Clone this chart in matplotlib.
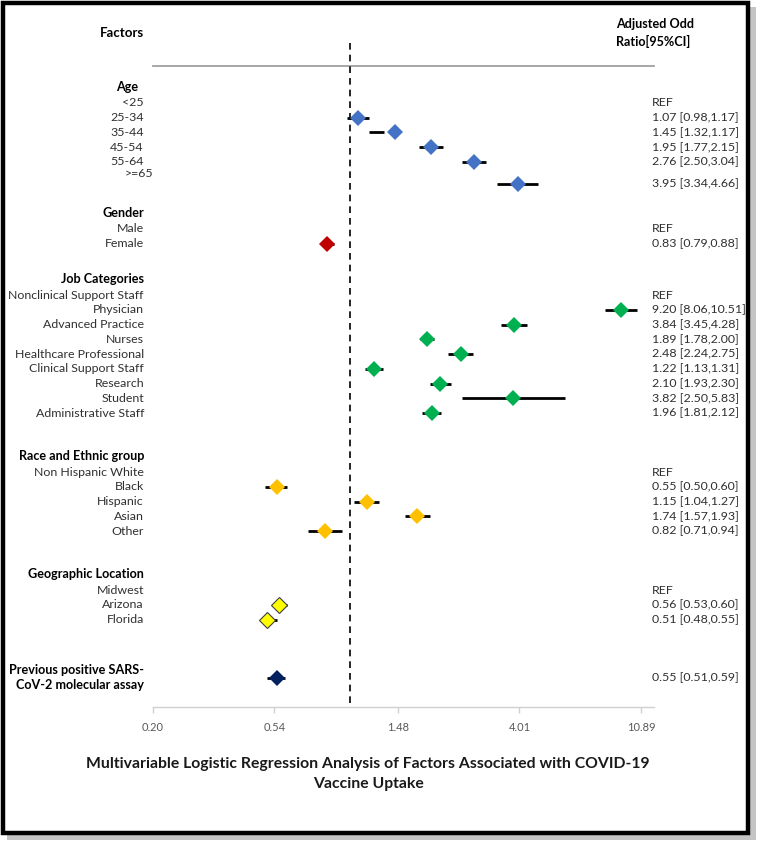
import numpy as np
import matplotlib
matplotlib.use("Agg")
import matplotlib.pyplot as plt
from matplotlib.patches import Rectangle
import matplotlib.transforms as mtransforms

plt.rcParams['font.family'] = ['Lato', 'DejaVu Sans']

# ---- data ----
age_labels = ['<25', '25-34', '35-44', '45-54', '55-64', '>=65']
age_or = [np.nan, 1.07, 1.45, 1.95, 2.76, 3.95]
age_lo = [np.nan, 0.98, 1.32, 1.77, 2.50, 3.34]
age_hi = [np.nan, 1.17, 1.17, 2.15, 3.04, 4.66]

gender_labels = ['Male', 'Female']
gender_or = [np.nan, 0.83]
gender_lo = [np.nan, 0.79]
gender_hi = [np.nan, 0.88]

job_labels = ['Nonclinical Support Staff', 'Physician', 'Advanced Practice', 'Nurses',
              'Healthcare Professional', 'Clinical Support Staff', 'Research', 'Student',
              'Administrative Staff']
job_or = [np.nan, 9.20, 3.84, 1.89, 2.48, 1.22, 2.10, 3.82, 1.96]
job_lo = [np.nan, 8.06, 3.45, 1.78, 2.24, 1.13, 1.93, 2.50, 1.81]
job_hi = [np.nan, 10.51, 4.28, 2.00, 2.75, 1.31, 2.30, 5.83, 2.12]

race_labels = ['Non Hispanic White', 'Black', 'Hispanic', 'Asian', 'Other']
race_or = [np.nan, 0.55, 1.15, 1.74, 0.82]
race_lo = [np.nan, 0.50, 1.04, 1.57, 0.71]
race_hi = [np.nan, 0.60, 1.27, 1.93, 0.94]

geo_labels = ['Midwest', 'Arizona', 'Florida']
geo_or = [np.nan, 0.56, 0.51]
geo_lo = [np.nan, 0.53, 0.48]
geo_hi = [np.nan, 0.60, 0.55]

prev_label = 'Previous positive SARS-\nCoV-2 molecular assay'
prev_or = [0.55]
prev_lo = [0.51]
prev_hi = [0.59]

xticks = [0.20, 0.54, 1.48, 4.01, 10.89]

# group: header, labels, values, colour, edge colour, row of first item
groups = [
    ('Age', age_labels, age_or, age_lo, age_hi, '#4472C4', '#4472C4', 1.22),
    ('Gender', gender_labels, gender_or, gender_lo, gender_hi, '#C00000', '#C00000', 9.76),
    ('Job Categories', job_labels, job_or, job_lo, job_hi, '#00B050', '#00B050', 14.24),
    ('Race and Ethnic group', race_labels, race_or, race_lo, race_hi, '#FFC000', '#FFC000', 26.24),
    ('Geographic Location', geo_labels, geo_or, geo_lo, geo_hi, '#FFFF00', '#404040', 34.24),
]

W, H = 762, 847
fig = plt.figure(figsize=(W / 100, H / 100), dpi=100)

# frame with shadow
fig.patches.append(Rectangle((7 / W, 1 - 840 / H), 749 / W, 833 / H, transform=fig.transFigure,
                             facecolor='#c4c4c4', edgecolor='none', zorder=-2))
fig.patches.append(Rectangle((3 / W, 1 - 833 / H), 745 / W, 830 / H, transform=fig.transFigure,
                             facecolor='white', edgecolor='black', linewidth=3.2, zorder=-1))

row_px = 14.75
row0_px = 85
axis_px = 707
ax = fig.add_axes([153 / W, 1 - axis_px / H, 501 / W, axis_px / H])
ax.patch.set_alpha(0)
ax.set_xscale('log')
ax.set_xlim(0.20, np.exp(np.log(0.20) + 501 / 122.2))
ax.set_ylim((axis_px - row0_px) / row_px, -row0_px / row_px)

for s in ['top', 'right', 'left']:
    ax.spines[s].set_visible(False)
ax.spines['bottom'].set_color('#d0d0d0')
ax.spines['bottom'].set_linewidth(1.0)
ax.set_yticks([])
ax.set_xticks(xticks)
ax.set_xticklabels([f'{t:.2f}' for t in xticks])
ax.xaxis.set_minor_locator(matplotlib.ticker.NullLocator())
ax.tick_params(axis='x', colors='#d0d0d0', labelcolor='#595959', labelsize=8,
               length=4, width=1, pad=7)

trans = mtransforms.blended_transform_factory(ax.transAxes, ax.transData)
lab_x = -9 / 501
val_x = 499 / 501
lab_fs = 8.9
txt_col = '#303030'

def draw_row(y, o, lo, hi, col, ec):
    if np.isnan(o):
        return
    ax.hlines(y, min(lo, hi), max(lo, hi), color='black', linewidth=2, zorder=3)
    ax.plot([o], [y], marker='D', markersize=8.5, color=col, markeredgecolor=ec,
            markeredgewidth=0.8 if ec != col else 0, zorder=4, linestyle='none')

for name, labels, ors, los, his, col, ec, start in groups:
    ax.text(lab_x - (6 / 501 if name == 'Age' else 0), start - 1.1, name, transform=trans,
            ha='right', va='center', fontsize=lab_fs + 0.2, fontweight='bold', clip_on=False)
    for k, lab in enumerate(labels):
        y = start + k
        lab_y, lx = y, lab_x
        if name == 'Age' and lab == '>=65':
            y = start + k + 0.49
            lab_y, lx = start + k - 0.19, 0.0
        ax.text(lx, lab_y, lab, transform=trans, ha='right', va='center',
                fontsize=lab_fs, color=txt_col, clip_on=False)
        if np.isnan(ors[k]):
            txt = 'REF'
        else:
            txt = f'{ors[k]:.2f} [{los[k]:.2f},{his[k]:.2f}]'
        ax.text(val_x, y, txt, transform=trans, ha='left', va='center',
                fontsize=lab_fs, color=txt_col, clip_on=False)
        draw_row(y, ors[k], los[k], his[k], col, ec)

# previous positive assay
prev_row = 40.2
ax.text(lab_x, prev_row, prev_label, transform=trans, ha='right', va='center',
        fontsize=lab_fs + 0.2, fontweight='bold', linespacing=1.3, clip_on=False)
ax.text(val_x, prev_row, f'{prev_or[0]:.2f} [{prev_lo[0]:.2f},{prev_hi[0]:.2f}]',
        transform=trans, ha='left', va='center', fontsize=lab_fs, color=txt_col, clip_on=False)
draw_row(prev_row, prev_or[0], prev_lo[0], prev_hi[0], '#002060', '#002060')

# headers
ax.text(lab_x, -3.53, 'Factors', transform=trans, ha='right', va='center',
        fontsize=lab_fs + 0.6, fontweight='bold', clip_on=False)
ax.text(463 / 501, -3.53, 'Adjusted Odd\nRatio[95%CI]', transform=trans, ha='left',
        va='center', fontsize=lab_fs + 0.2, fontweight='bold', linespacing=1.5, clip_on=False)
ax.plot([0, 1], [-1.29, -1.29], transform=trans, color='#a0a0a0', linewidth=1.3, clip_on=False)

# reference line at OR = 1
ax.vlines(1.0, -2.85, (axis_px - row0_px) / row_px, colors='black', linestyles=(0, (4, 3)),
          linewidth=1.2, clip_on=False)

fig.text(368 / W, 1 - 774 / H,
         'Multivariable Logistic Regression Analysis of Factors Associated with COVID-19\nVaccine Uptake',
         ha='center', va='center', fontsize=11.3, fontweight='bold', color='#1a1a1a',
         linespacing=1.6)

fig.savefig('out.png', dpi=100)
